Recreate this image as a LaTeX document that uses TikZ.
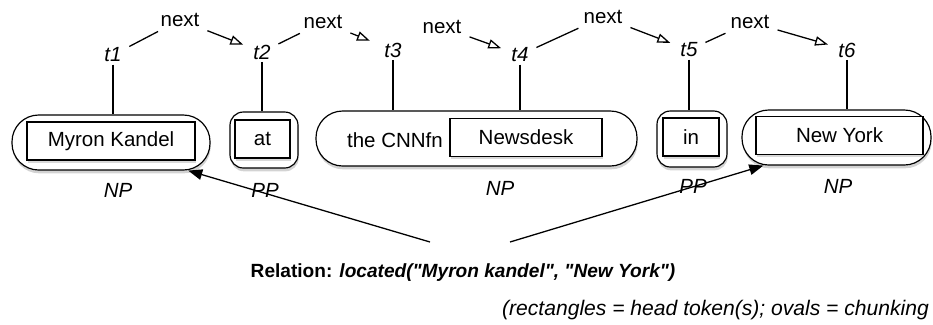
\documentclass[tikz,border=0pt]{standalone}
\usepackage{fontspec}
\setmainfont{Liberation Sans}[Ligatures=TeXOff]
\usetikzlibrary{arrows.meta, shadows}

\begin{document}
\begin{tikzpicture}[x=0.03cm, y=-0.03cm,
        txt/.style={font=\fontsize{17.5}{20}\selectfont, inner sep=2pt},
        chunk/.style={draw, line width=1pt, fill=white, rounded corners=0.8cm,
                      minimum height=1.65cm, inner sep=0pt,
                      drop shadow={shadow xshift=0.02cm, shadow yshift=-0.1cm, opacity=0.35}},
        smallchunk/.style={chunk, minimum height=1.68cm, rounded corners=0.4cm},
        head/.style={txt, draw, line width=1.4pt, fill=white, minimum height=1.15cm,
                     drop shadow={shadow xshift=0.02cm, shadow yshift=-0.08cm, opacity=0.3}},
        tok/.style={txt, font=\fontsize{17.5}{20}\selectfont\itshape},
        cat/.style={txt, font=\fontsize{17.5}{20}\selectfont\itshape},
        stem/.style={line width=1.1pt},
        link/.style={line width=1.1pt, shorten <=5pt, shorten >=4pt},
        succ/.style={link, -{Triangle[open, length=11pt, width=8pt]}, shorten >=7pt},
        rel/.style={line width=1.1pt, -{Triangle[length=12pt, width=9pt]}},
    ]
    \useasboundingbox (0,0) rectangle (933,324);

    % chunks (ovals) and head tokens (rectangles)
    \node[chunk, minimum width=5.94cm] (np1) at (111,142.5) {};
    \node[head, minimum width=5.04cm] (myron) at (111,141) {Myron Kandel};
    \node[smallchunk, minimum width=2.04cm] (pp1) at (264,140) {};
    \node[head, minimum width=1.65cm] (at) at (262.5,139) {at};
    \node[chunk, minimum width=9.63cm] (np2) at (476.5,138.5) {};
    \node[txt] (cnnfn) at (395,140) {the CNNfn};
    \node[head, minimum width=4.56cm] (newsdesk) at (526,137.5) {Newsdesk};
    \node[smallchunk, minimum width=2.1cm] (pp2) at (692,139) {};
    \node[head, minimum width=1.68cm] (in) at (691,137) {in};
    \node[chunk, minimum width=5.67cm] (np3) at (836.5,137.5) {};
    \node[head, minimum width=5.01cm] (newyork) at (839.5,135.5) {New York};

    % chunk categories
    \node[cat] (c1) at (118,190) {NP};
    \node[cat] (c2) at (265,190) {PP};
    \node[cat] (c3) at (500,188) {NP};
    \node[cat] (c4) at (693,186) {PP};
    \node[cat] (c5) at (838,186) {NP};

    % tokens
    \node[tok] (t1) at (113,55) {t1};
    \node[tok] (t2) at (262,52) {t2};
    \node[tok] (t3) at (393,50) {t3};
    \node[tok] (t4) at (520,55) {t4};
    \node[tok] (t5) at (689,50) {t5};
    \node[tok] (t6) at (847,50) {t6};
    \draw[stem] (t1) -- (t1 |- np1.north);
    \draw[stem] (t2) -- (t2 |- pp1.north);
    \draw[stem] (t3) -- (t3 |- np2.north);
    \draw[stem] (t4) -- (t4 |- np2.north);
    \draw[stem] (t5) -- (t5 |- pp2.north);
    \draw[stem] (t6) -- (t6 |- np3.north);

    % next links
    \node[txt] (n1) at (180,20) {next};
    \node[txt] (n2) at (323,22) {next};
    \node[txt] (n3) at (442,27) {next};
    \node[txt] (n4) at (603,17) {next};
    \node[txt] (n5) at (750,22) {next};
    \draw[link] (t1) -- (n1);
    \draw[succ] (n1) -- (t2);
    \draw[link] (t2) -- (n2);
    \draw[succ, shorten >=11pt] (n2) -- (t3);
    \draw[succ] (n3) -- (t4);
    \draw[link] (t4) -- (n4);
    \draw[succ] (n4) -- (t5);
    \draw[link] (t5) -- (n5);
    \draw[succ] (n5) -- (t6);

    % relation
    \node[font=\fontsize{16.3}{20}\selectfont\bfseries] (relation) at (463,273)
        {Relation: \textit{located("Myron kandel", "New York")}};
    \coordinate (argA) at (430,242);
    \coordinate (argB) at (510,242);
    \draw[rel] (argA) -- (np1.-20);
    \draw[rel] (argB) -- (np3.-159);

    \node[font=\fontsize{18}{20}\selectfont\itshape, anchor=east] (note) at (933,310)
        {(rectangles = head token(s); ovals = chunking};
\end{tikzpicture}
\end{document}
